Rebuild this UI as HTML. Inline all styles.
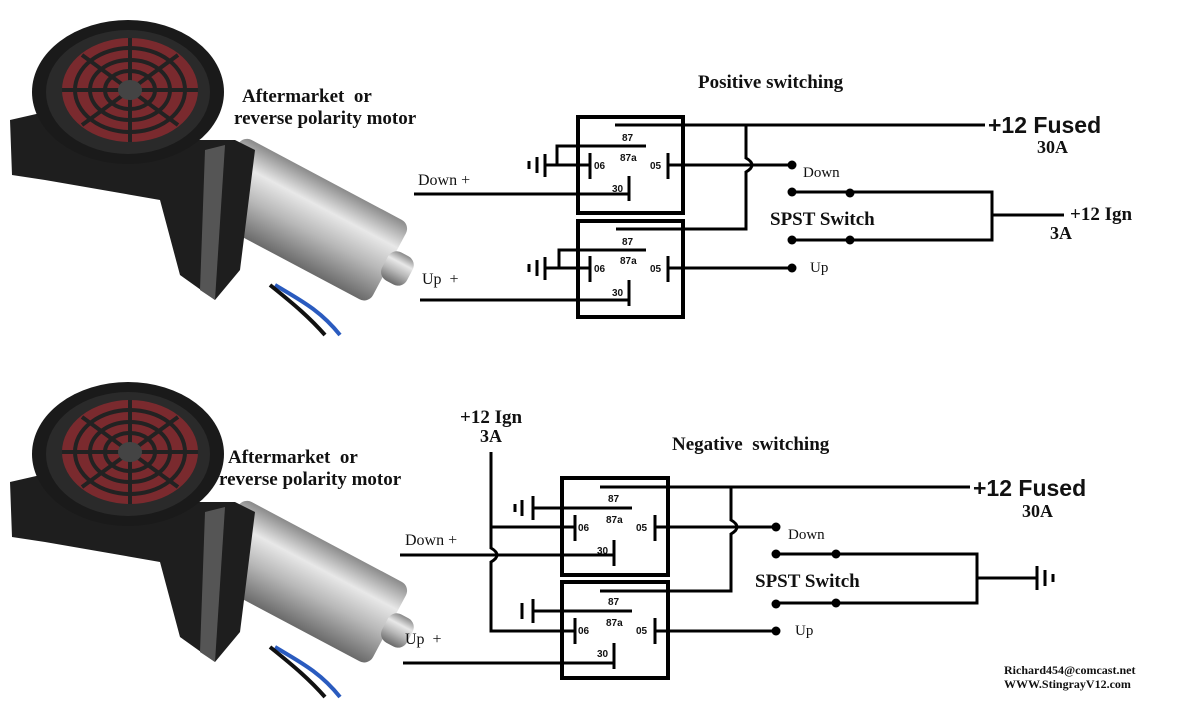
<!DOCTYPE html>
<html><head><meta charset="utf-8"><style>
html,body{margin:0;padding:0;background:#fff}
svg{display:block}
text{white-space:pre}
.s{font-family:"Liberation Serif",serif;font-weight:bold;fill:#111}
.r{font-family:"Liberation Serif",serif;fill:#111}
.a{font-family:"Liberation Sans",sans-serif;font-weight:bold;fill:#111}
.w{stroke:#000;stroke-width:3;fill:none}
.b{stroke:#000;stroke-width:4;fill:none}
</style></head><body>
<svg width="1200" height="726" viewBox="0 0 1200 726" xmlns="http://www.w3.org/2000/svg">
<defs>
<linearGradient id="cyl" x1="0" y1="0" x2="0" y2="1">
<stop offset="0" stop-color="#8a8a8a"/><stop offset="0.3" stop-color="#e8e8e8"/><stop offset="0.6" stop-color="#b8b8b8"/><stop offset="1" stop-color="#6a6a6a"/></linearGradient>
<g id="motor">
<path d="M275,285 C300,300 320,310 340,335" stroke="#2a5bbf" stroke-width="4" fill="none"/>
<path d="M270,285 C295,305 310,318 325,335" stroke="#111" stroke-width="4" fill="none"/>
<g transform="translate(310,222) rotate(28)">
<rect x="-100" y="-45" width="190" height="90" rx="10" fill="url(#cyl)"/>
<rect x="85" y="-16" width="28" height="32" rx="10" fill="url(#cyl)"/>
</g>
<path d="M10,120 L45,112 L150,140 L235,140 L255,150 L240,270 L215,300 L180,275 L160,200 L45,180 L12,175 Z" fill="#1e1e1e"/>
<path d="M205,150 L225,145 L215,300 L200,290 Z" fill="#555"/>
<ellipse cx="128" cy="92" rx="96" ry="72" fill="#1a1a1a"/>
<ellipse cx="128" cy="92" rx="82" ry="62" fill="#2a2a2a"/>
<ellipse cx="130" cy="90" rx="68" ry="52" fill="#7a2a2e"/>
<g stroke="#222" stroke-width="4" fill="none">
<ellipse cx="130" cy="90" rx="55" ry="42"/><ellipse cx="130" cy="90" rx="40" ry="30"/><ellipse cx="130" cy="90" rx="25" ry="19"/>
<path d="M130,38 V142 M62,90 H198 M82,55 L178,125 M82,125 L178,55"/>
</g>
<ellipse cx="130" cy="90" rx="12" ry="10" fill="#444"/>
</g>
</defs>
<use href="#motor"/>
<use href="#motor" y="362"/>

<text class="s" x="242" y="102" font-size="19">Aftermarket  or</text>
<text class="s" x="234" y="124" font-size="19">reverse polarity motor</text>
<text class="s" x="228" y="463" font-size="19">Aftermarket  or</text>
<text class="s" x="219" y="485" font-size="19">reverse polarity motor</text>

<!-- TOP -->
<text class="s" x="698" y="88" font-size="19">Positive switching</text>
<rect class="b" x="578" y="117" width="105" height="96"/>
<rect class="b" x="578" y="221" width="105" height="96"/>
<g class="w">
<path d="M615,125 H985"/>
<path d="M746,125 V158 Q758,165 746,172 V229 H616"/>
<path d="M646,146 H557 V165 H590 M545,165 H557"/>
<path d="M545,154 V177 M537,157 V173 M529,161 V169"/>
<path d="M590,153 V179 M668,153 V179 M629,176 V201"/>
<path d="M668,165 H792 M414,194 H629"/>
<path d="M646,250 H559 V268 H590 M545,268 H559"/>
<path d="M545,257 V280 M537,260 V276 M529,264 V272"/>
<path d="M590,256 V282 M668,256 V282 M629,280 V306"/>
<path d="M668,268 H792 M420,300 H629"/>
<path d="M792,192 H992 V240 H792 M992,215 H1064"/>
</g>
<g fill="#000"><circle cx="792" cy="165" r="4.5"/><circle cx="792" cy="192" r="4.5"/><circle cx="850" cy="193" r="4.5"/><circle cx="792" cy="240" r="4.5"/><circle cx="850" cy="240" r="4.5"/><circle cx="792" cy="268" r="4.5"/></g>
<g class="a" font-size="10"><text x="622" y="141">87</text><text x="620" y="161">87a</text><text x="594" y="169">06</text><text x="650" y="169">05</text><text x="612" y="192">30</text>
<text x="622" y="245">87</text><text x="620" y="264">87a</text><text x="594" y="272">06</text><text x="650" y="272">05</text><text x="612" y="296">30</text></g>
<text class="r" x="418" y="185" font-size="16">Down +</text>
<text class="r" x="422" y="284" font-size="16">Up  +</text>
<text class="a" x="988" y="133" font-size="23">+12 Fused</text>
<text class="s" x="1037" y="153" font-size="18">30A</text>
<text class="r" x="803" y="177" font-size="15">Down</text>
<text class="r" x="810" y="272" font-size="15">Up</text>
<text class="s" x="770" y="225" font-size="19">SPST Switch</text>
<text class="s" x="1070" y="220" font-size="19">+12 Ign</text>
<text class="s" x="1050" y="239" font-size="18">3A</text>

<!-- BOTTOM -->
<text class="s" x="672" y="450" font-size="19">Negative  switching</text>
<text class="s" x="460" y="423" font-size="19">+12 Ign</text>
<text class="s" x="480" y="442" font-size="18">3A</text>
<rect class="b" x="562" y="478" width="106" height="97"/>
<rect class="b" x="562" y="582" width="106" height="96"/>
<g class="w">
<path d="M600,487 H970"/>
<path d="M731,487 V520 Q743,527 731,534 V591 H600"/>
<path d="M632,508 H533 M533,496 V520 M522,500 V516 M515,504 V512"/>
<path d="M491,452 V548 Q503,555 491,562 V631 H575"/>
<path d="M491,527 H575"/>
<path d="M575,515 V541 M655,515 V541 M614,540 V566"/>
<path d="M655,527 H776 M400,555 H614"/>
<path d="M632,611 H533 M533,599 V623 M522,603 V619"/>
<path d="M575,618 V644 M655,618 V644 M614,643 V669"/>
<path d="M655,631 H776 M403,663 H614"/>
<path d="M776,554 H977 V603 H776 M977,578 H1037 M1037,566 V590 M1045,570 V586 M1053,574 V582"/>
</g>
<g fill="#000"><circle cx="776" cy="527" r="4.5"/><circle cx="776" cy="554" r="4.5"/><circle cx="836" cy="554" r="4.5"/><circle cx="776" cy="604" r="4.5"/><circle cx="836" cy="603" r="4.5"/><circle cx="776" cy="631" r="4.5"/></g>
<g class="a" font-size="10"><text x="608" y="502">87</text><text x="606" y="523">87a</text><text x="578" y="531">06</text><text x="636" y="531">05</text><text x="597" y="554">30</text>
<text x="608" y="605">87</text><text x="606" y="626">87a</text><text x="578" y="634">06</text><text x="636" y="634">05</text><text x="597" y="657">30</text></g>
<text class="r" x="405" y="545" font-size="16">Down +</text>
<text class="r" x="405" y="644" font-size="16">Up  +</text>
<text class="a" x="973" y="496" font-size="23">+12 Fused</text>
<text class="s" x="1022" y="517" font-size="18">30A</text>
<text class="r" x="788" y="539" font-size="15">Down</text>
<text class="r" x="795" y="635" font-size="15">Up</text>
<text class="s" x="755" y="587" font-size="19">SPST Switch</text>
<text class="s" x="1004" y="674" font-size="12">Richard454@comcast.net</text>
<text class="s" x="1004" y="688" font-size="12">WWW.StingrayV12.com</text>
</svg>
</body></html>
